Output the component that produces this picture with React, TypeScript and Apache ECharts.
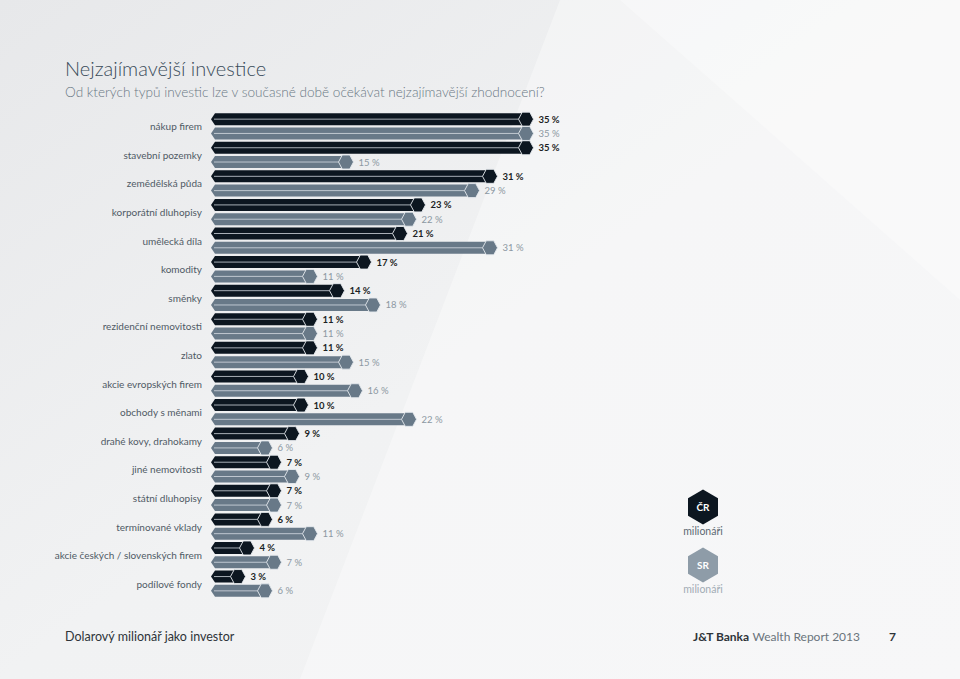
import React, { useEffect, useRef } from "react";
import * as echarts from "echarts";

const categories = [
  "nákup firem",
  "stavební pozemky",
  "zemědělská půda",
  "korporátní dluhopisy",
  "umělecká díla",
  "komodity",
  "směnky",
  "rezidenční nemovitosti",
  "zlato",
  "akcie evropských firem",
  "obchody s měnami",
  "drahé kovy, drahokamy",
  "jiné nemovitosti",
  "státní dluhopisy",
  "termínované vklady",
  "akcie českých / slovenských firem",
  "podílové fondy",
];
const crValues = [35, 35, 31, 23, 21, 17, 14, 11, 11, 10, 10, 9, 7, 7, 6, 4, 3];
const srValues = [35, 15, 29, 22, 31, 11, 18, 11, 15, 16, 22, 6, 9, 7, 11, 7, 6];

const FONT = "Lato, 'Open Sans', sans-serif";
const CR_COLOR = "#0c1620";
const SR_COLOR = "#687988";

function makeRender(body: string, labelColor: string, bold: boolean, sign: number) {
  return (params: any, api: any) => {
    const v = api.value(0);
    const c = api.value(1);
    const end = api.coord([v, c]);
    const start = api.coord([0, c]);
    const band = api.size([0, 1])[1];
    const yc = end[1] + (sign * band) / 4;
    const h = 12;
    const top = yc - h / 2;
    const bot = yc + h / 2;
    const x0 = start[0];
    const cx = end[0];
    const hw = 7.5;
    const hh = 7;
    return {
      type: "group",
      children: [
        {
          type: "polygon",
          shape: {
            points: [
              [x0, yc],
              [x0 + 4, top],
              [cx, top],
              [cx, bot],
              [x0 + 4, bot],
            ],
          },
          style: { fill: body },
        },
        {
          type: "line",
          shape: { x1: x0 + 3, y1: yc, x2: cx - hw, y2: yc },
          style: { stroke: "rgba(220,226,232,0.75)", lineWidth: 1 },
        },
        {
          type: "polygon",
          shape: {
            points: [
              [cx - hw, yc],
              [cx - hw / 2, yc - hh],
              [cx + hw / 2, yc - hh],
              [cx + hw, yc],
              [cx + hw / 2, yc + hh],
              [cx - hw / 2, yc + hh],
            ],
          },
          style: { fill: body, stroke: "rgba(230,234,238,0.9)", lineWidth: 1 },
        },
        {
          type: "text",
          x: cx + hw + 5,
          y: yc,
          style: {
            text: `${v} %`,
            fill: labelColor,
            font: `${bold ? 700 : 400} 9.5px ${FONT}`,
            verticalAlign: "middle",
            align: "left",
          },
        },
      ],
    };
  };
}

function hexPoints(cx: number, cy: number, w: number, h: number) {
  return [
    [cx, cy - h / 2],
    [cx + w / 2, cy - h / 4],
    [cx + w / 2, cy + h / 4],
    [cx, cy + h / 2],
    [cx - w / 2, cy + h / 4],
    [cx - w / 2, cy - h / 4],
  ];
}

export default function App() {
  const ref = useRef<HTMLDivElement>(null);
  useEffect(() => {
    document.body.style.margin = "0";
    const chart = echarts.init(ref.current!, undefined, { renderer: "svg" });
    chart.setOption({
      animation: false,
      backgroundColor: {
        type: "linear",
        x: 0,
        y: 0,
        x2: 1,
        y2: 1,
        colorStops: [
          { offset: 0, color: "#e7e8ea" },
          { offset: 0.5, color: "#f1f2f3" },
          { offset: 1, color: "#f3f3f4" },
        ],
      },
      grid: { left: 211, right: 299, top: 112, bottom: 81 },
      xAxis: {
        type: "value",
        min: 0,
        max: 50,
        show: false,
      },
      yAxis: {
        type: "category",
        data: categories,
        inverse: true,
        axisLine: { show: false },
        axisTick: { show: false },
        splitLine: { show: false },
        axisLabel: {
          margin: 9,
          fontSize: 10,
          color: "#4f5a65",
          fontFamily: FONT,
        },
      },
      graphic: [
        {
          type: "polygon",
          z: -10,
          silent: true,
          shape: { points: [[560, 0], [960, 0], [960, 679], [300, 679]] },
          style: { fill: "rgba(255,255,255,0.35)" },
        },
        {
          type: "polygon",
          z: -10,
          silent: true,
          shape: { points: [[620, 0], [960, 0], [960, 300]] },
          style: { fill: "rgba(255,255,255,0.3)" },
        },
        {
          type: "text",
          left: 65,
          top: 58,
          style: {
            text: "Nejzajímavější investice",
            font: `300 20px ${FONT}`,
            fill: "#3a4c5a",
          },
        },
        {
          type: "text",
          left: 65,
          top: 85,
          style: {
            text: "Od kterých typů investic lze v současné době očekávat nejzajímavější zhodnocení?",
            font: `300 13.6px ${FONT}`,
            fill: "#6a7884",
          },
        },
        {
          type: "polygon",
          shape: { points: hexPoints(703, 507, 30, 35) },
          style: { fill: CR_COLOR },
        },
        {
          type: "text",
          x: 703,
          y: 507,
          style: {
            text: "ČR",
            font: `700 10px ${FONT}`,
            fill: "#ffffff",
            align: "center",
            verticalAlign: "middle",
          },
        },
        {
          type: "text",
          x: 703,
          y: 531,
          style: {
            text: "milionáři",
            font: `400 10.5px ${FONT}`,
            fill: "#5d6973",
            align: "center",
            verticalAlign: "middle",
          },
        },
        {
          type: "polygon",
          shape: { points: hexPoints(703, 565, 30, 35) },
          style: { fill: "#8e9ca8" },
        },
        {
          type: "text",
          x: 703,
          y: 565,
          style: {
            text: "SR",
            font: `700 10px ${FONT}`,
            fill: "#ffffff",
            align: "center",
            verticalAlign: "middle",
          },
        },
        {
          type: "text",
          x: 703,
          y: 589,
          style: {
            text: "milionáři",
            font: `400 10.5px ${FONT}`,
            fill: "#a2acb5",
            align: "center",
            verticalAlign: "middle",
          },
        },
        {
          type: "text",
          x: 65,
          y: 636,
          style: {
            text: "Dolarový milionář jako investor",
            font: `400 12.5px ${FONT}`,
            fill: "#2e3439",
            verticalAlign: "middle",
          },
        },
        {
          type: "text",
          x: 860,
          y: 636,
          style: {
            text: "{b|J&T Banka} {r|Wealth Report 2013}",
            align: "right",
            verticalAlign: "middle",
            rich: {
              b: { font: `700 12px ${FONT}`, fill: "#2e3439" },
              r: { font: `400 12px ${FONT}`, fill: "#6a747c" },
            },
          },
        },
        {
          type: "text",
          x: 889,
          y: 636,
          style: {
            text: "7",
            font: `700 12px ${FONT}`,
            fill: "#2e3439",
            verticalAlign: "middle",
          },
        },
      ],
      series: [
        {
          name: "ČR",
          type: "custom",
          renderItem: makeRender(CR_COLOR, "#1b1f24", true, -1),
          encode: { x: 0, y: 1 },
          data: crValues.map((v, i) => [v, i]),
        },
        {
          name: "SR",
          type: "custom",
          renderItem: makeRender(SR_COLOR, "#8c98a2", false, 1),
          encode: { x: 0, y: 1 },
          data: srValues.map((v, i) => [v, i]),
        },
      ],
    });
    return () => chart.dispose();
  }, []);
  return (
    <div
      ref={ref}
      style={{ position: "absolute", left: 0, top: 0, width: 960, height: 679 }}
    />
  );
}
